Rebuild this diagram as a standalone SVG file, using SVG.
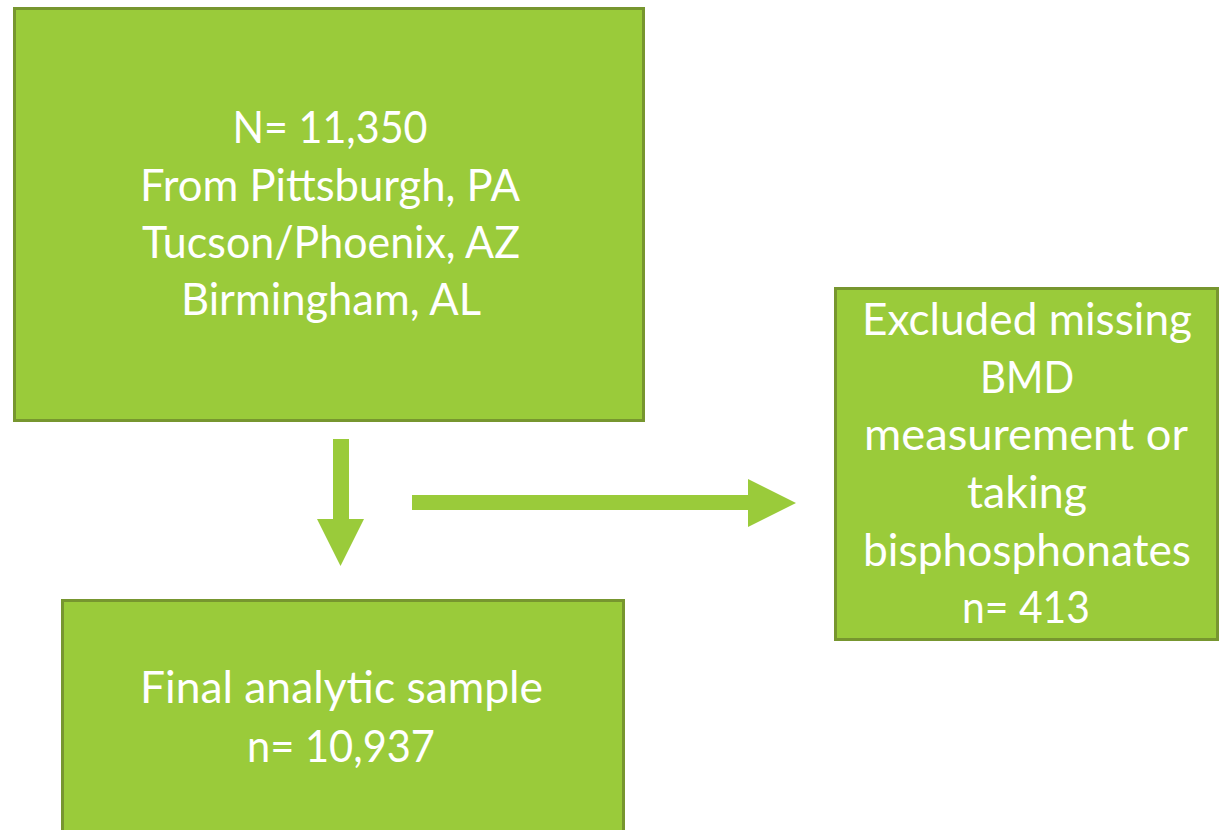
<svg xmlns="http://www.w3.org/2000/svg" width="1220" height="830" viewBox="0 0 1220 830">
<style>
.box{fill:#9acb3a;stroke:#77962f;stroke-width:3}
.arrow{fill:#9acb3a;stroke:none}
.t{font-family:Lato,"Open Sans","Liberation Sans",sans-serif;font-size:44px;fill:#ffffff;text-anchor:middle}
</style>
<rect width="1220" height="830" fill="#ffffff"/>
<g id="connectors">
<polygon class="arrow" points="333,439 349,439 349,519 364,519 340.5,566 317,519 333,519"/>
<polygon class="arrow" points="412,495 748,495 748,479 796,503 748,527 748,510 412,510"/>
</g>
<g id="node-start">
<rect class="box" x="14.5" y="8.5" width="629" height="412"/>
<text class="t" x="330" y="143" textLength="195" lengthAdjust="spacingAndGlyphs">N= 11,350</text>
<text class="t" x="330" y="201" textLength="380" lengthAdjust="spacingAndGlyphs">From Pittsburgh, PA</text>
<text class="t" x="331" y="258" textLength="378" lengthAdjust="spacingAndGlyphs">Tucson/Phoenix, AZ</text>
<text class="t" x="331" y="315" textLength="300" lengthAdjust="spacingAndGlyphs">Birmingham, AL</text>
</g>
<g id="node-excluded">
<rect class="box" x="835.5" y="288.5" width="382" height="351"/>
<text class="t" x="1027" y="335" textLength="330" lengthAdjust="spacingAndGlyphs">Excluded missing</text>
<text class="t" x="1027" y="393" textLength="94" lengthAdjust="spacingAndGlyphs">BMD</text>
<text class="t" x="1026" y="450" textLength="324" lengthAdjust="spacingAndGlyphs">measurement or</text>
<text class="t" x="1027" y="508" textLength="120" lengthAdjust="spacingAndGlyphs">taking</text>
<text class="t" x="1027" y="566" textLength="328" lengthAdjust="spacingAndGlyphs">bisphosphonates</text>
<text class="t" x="1026" y="623" textLength="128" lengthAdjust="spacingAndGlyphs">n= 413</text>
</g>
<g id="node-final">
<rect class="box" x="62.5" y="600.5" width="561" height="262"/>
<text class="t" x="341.5" y="703" textLength="403" lengthAdjust="spacingAndGlyphs">Final analytic sample</text>
<text class="t" x="341" y="762" textLength="188" lengthAdjust="spacingAndGlyphs">n= 10,937</text>
</g>
</svg>
